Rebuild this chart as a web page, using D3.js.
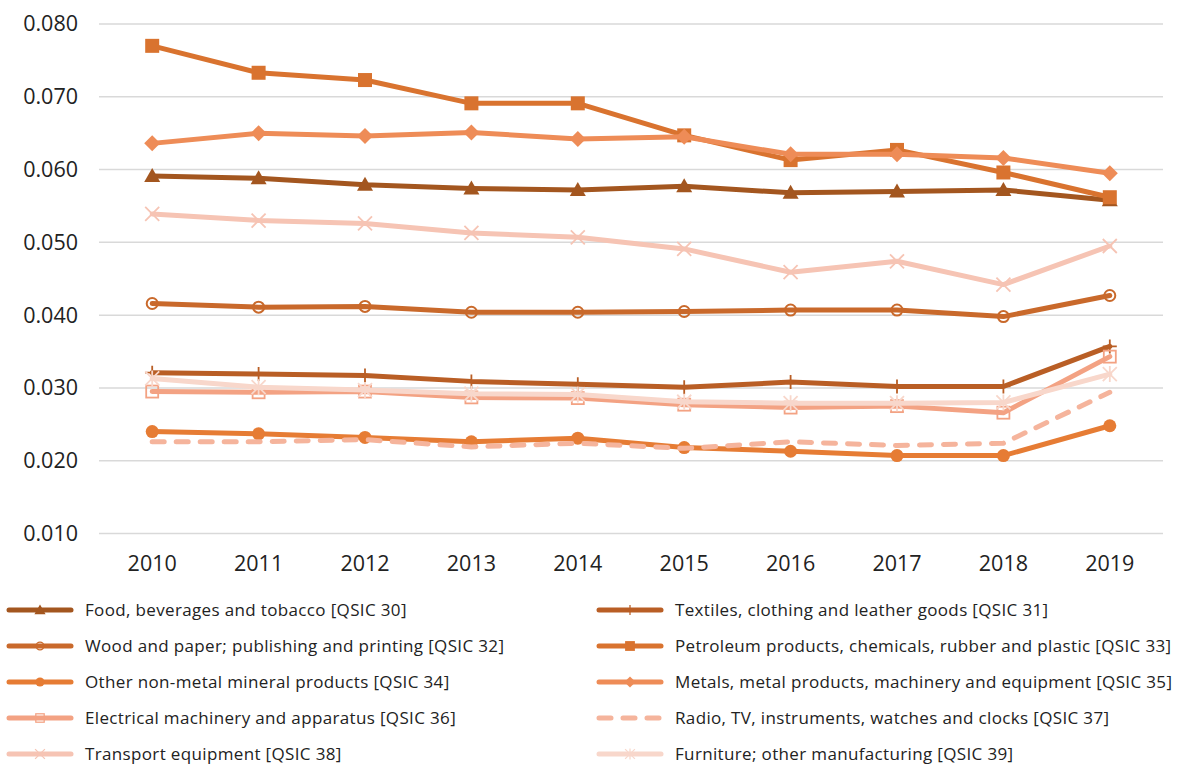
<!DOCTYPE html>
<html>
<head>
<meta charset="UTF-8">
<title>QSIC series</title>
<style>
body, html {
	margin: 0;
	padding: 0;
	background: #ffffff;
	overflow: hidden;
}
svg text {
	font-family: 'Open Sans', sans-serif;
	fill: #222222;
}
</style>
</head>
<body>
<div id="chart"></div>
<script src="https://cdn.jsdelivr.net/npm/d3@7"></script>
<script>
var years = ["2010", "2011", "2012", "2013", "2014", "2015", "2016", "2017", "2018", "2019"];
var yTicks = [0.010, 0.020, 0.030, 0.040, 0.050, 0.060, 0.070, 0.080];

var names = [
	"Food, beverages and tobacco [QSIC 30]",
	"Textiles, clothing and leather goods [QSIC 31]",
	"Wood and paper; publishing and printing [QSIC 32]",
	"Petroleum products, chemicals, rubber and plastic [QSIC 33]",
	"Other non-metal mineral products [QSIC 34]",
	"Metals, metal products, machinery and equipment [QSIC 35]",
	"Electrical machinery and apparatus [QSIC 36]",
	"Radio, TV, instruments, watches and clocks [QSIC 37]",
	"Transport equipment [QSIC 38]",
	"Furniture; other manufacturing [QSIC 39]"
];

var qsic30 = [0.0591, 0.0588, 0.0579, 0.0574, 0.0572, 0.0577, 0.0568, 0.0570, 0.0572, 0.0558];
var qsic31 = [0.0321, 0.0319, 0.0317, 0.0309, 0.0305, 0.0301, 0.0308, 0.0302, 0.0302, 0.0357];
var qsic32 = [0.0416, 0.0411, 0.0412, 0.0404, 0.0404, 0.0405, 0.0407, 0.0407, 0.0398, 0.0427];
var qsic33 = [0.0770, 0.0733, 0.0723, 0.0691, 0.0691, 0.0647, 0.0613, 0.0627, 0.0596, 0.0562];
var qsic34 = [0.0240, 0.0237, 0.0232, 0.0226, 0.0231, 0.0218, 0.0213, 0.0207, 0.0207, 0.0248];
var qsic35 = [0.0636, 0.0650, 0.0646, 0.0651, 0.0642, 0.0645, 0.0621, 0.0621, 0.0616, 0.0595];
var qsic36 = [0.0295, 0.0294, 0.0295, 0.0287, 0.0286, 0.0277, 0.0273, 0.0275, 0.0266, 0.0343];
var qsic37 = [0.0226, 0.0226, 0.0229, 0.0219, 0.0224, 0.0217, 0.0226, 0.0221, 0.0224, 0.0294];
var qsic38 = [0.0539, 0.0530, 0.0526, 0.0513, 0.0507, 0.0491, 0.0459, 0.0474, 0.0442, 0.0495];
var qsic39 = [0.0313, 0.0301, 0.0297, 0.0292, 0.0291, 0.0281, 0.0279, 0.0279, 0.0280, 0.0319];

var colors = ["#a3561f", "#b95e25", "#c9692b", "#d9732f", "#e67c34", "#ee8c57", "#f3a283", "#f5b49c", "#f6c4b4", "#f8d7cb"];
var markers = ["triangle", "plus", "ocircle", "square", "circle", "diamond", "osquare", "none", "x", "asterisk"];

var series = [qsic30, qsic31, qsic32, qsic33, qsic34, qsic35, qsic36, qsic37, qsic38, qsic39].map(function(v, i) {
	return {name: names[i], values: v, color: colors[i], marker: markers[i], dashed: i == 7};
});

var width = 1184;
var height = 765;

var svg = d3.select("#chart").append("svg").attr("width", width).attr("height", height);

var x = d3.scaleBand().domain(years).range([99, 1163]);
var y = d3.scaleLinear().domain([0.010, 0.080]).range([533.5, 24]);

// gridlines
svg.append("g").selectAll("line").data(yTicks).enter().append("line")
	.attr("x1", 99).attr("x2", 1163)
	.attr("y1", function(d) {return y(d)}).attr("y2", function(d) {return y(d)})
	.attr("stroke", "#d9d9d9").attr("stroke-width", 1.5);

var yAxis = svg.append("g").attr("transform", "translate(78,0)")
	.call(d3.axisLeft(y).tickValues(yTicks).tickFormat(d3.format(".3f")).tickSize(0).tickPadding(0));
yAxis.select(".domain").remove();
yAxis.selectAll("text").style("font-size", "21.5px").style("font-family", "'Open Sans', sans-serif").attr("fill", "#222222");

var xAxis = svg.append("g").attr("transform", "translate(0,563)")
	.call(d3.axisBottom(x).tickSize(0).tickPadding(0));
xAxis.select(".domain").remove();
xAxis.selectAll("text").style("font-size", "21.5px").style("font-family", "'Open Sans', sans-serif").attr("fill", "#222222").attr("dy", "0.35em");

var line = d3.line()
	.x(function(d, i) {return x(years[i]) + x.bandwidth()/2})
	.y(function(d) {return y(d)});

function drawMarker(g, type, color) {
	switch (type) {
		case "triangle":
			g.append("path").attr("d", "M0,-8L8,6L-8,6Z").attr("fill", color);
			break;
		case "square":
			g.append("rect").attr("x", -7).attr("y", -7).attr("width", 14).attr("height", 14).attr("fill", color);
			break;
		case "osquare":
			g.append("rect").attr("x", -6).attr("y", -6).attr("width", 12).attr("height", 12).attr("fill", "none").attr("stroke", color).attr("stroke-width", 1.8);
			break;
		case "diamond":
			g.append("path").attr("d", "M0,-8L8,0L0,8L-8,0Z").attr("fill", color);
			break;
		case "circle":
			g.append("circle").attr("r", 6.5).attr("fill", color);
			break;
		case "ocircle":
			g.append("circle").attr("r", 5.5).attr("fill", "none").attr("stroke", color).attr("stroke-width", 2);
			break;
		case "plus":
			g.append("path").attr("d", "M0,-7V7M-7,0H7").attr("stroke", color).attr("stroke-width", 1.8);
			break;
		case "x":
			g.append("path").attr("d", "M-7,-7L7,7M-7,7L7,-7").attr("stroke", color).attr("stroke-width", 1.8);
			break;
		case "asterisk":
			g.append("path").attr("d", "M-7,-7L7,7M-7,7L7,-7M0,-8V8").attr("stroke", color).attr("stroke-width", 1.8);
			break;
	}
}

var plot = svg.append("g");

series.forEach(function(s) {
	var g = plot.append("g");
	g.append("path").datum(s.values)
		.attr("d", line)
		.attr("fill", "none")
		.attr("stroke", s.color)
		.attr("stroke-width", 5)
		.attr("stroke-linejoin", "round")
		.attr("stroke-linecap", "round")
		.attr("stroke-dasharray", s.dashed ? "12,12" : null);
	g.selectAll(".m").data(s.values).enter().append("g")
		.attr("class", "m")
		.attr("transform", function(d, i) {return "translate(" + (x(years[i]) + x.bandwidth()/2) + "," + y(d) + ")"})
		.each(function() {drawMarker(d3.select(this), s.marker, s.color)});
});

// legend
var legend = svg.append("g");
var item = legend.selectAll("g").data(series).enter().append("g")
	.attr("transform", function(d, i) {return "translate(" + (i % 2 == 0 ? 9 : 599) + "," + (610 + Math.floor(i/2)*36) + ")"});

item.append("line")
	.attr("x1", 0).attr("x2", 62).attr("y1", 0).attr("y2", 0)
	.attr("stroke", function(d) {return d.color})
	.attr("stroke-width", 5)
	.attr("stroke-linecap", "round")
	.attr("stroke-dasharray", function(d) {return d.dashed ? "12,12" : null});

item.each(function(d) {
	var m = d3.select(this).append("g").attr("transform", "translate(31,0) scale(0.7)");
	drawMarker(m, d.marker, d.color);
});

item.append("text")
	.attr("x", 76).attr("y", 0).attr("dy", "0.35em")
	.style("font-size", "17px")
	.style("letter-spacing", "0.35px")
	.text(function(d) {return d.name});
</script>
</body>
</html>
